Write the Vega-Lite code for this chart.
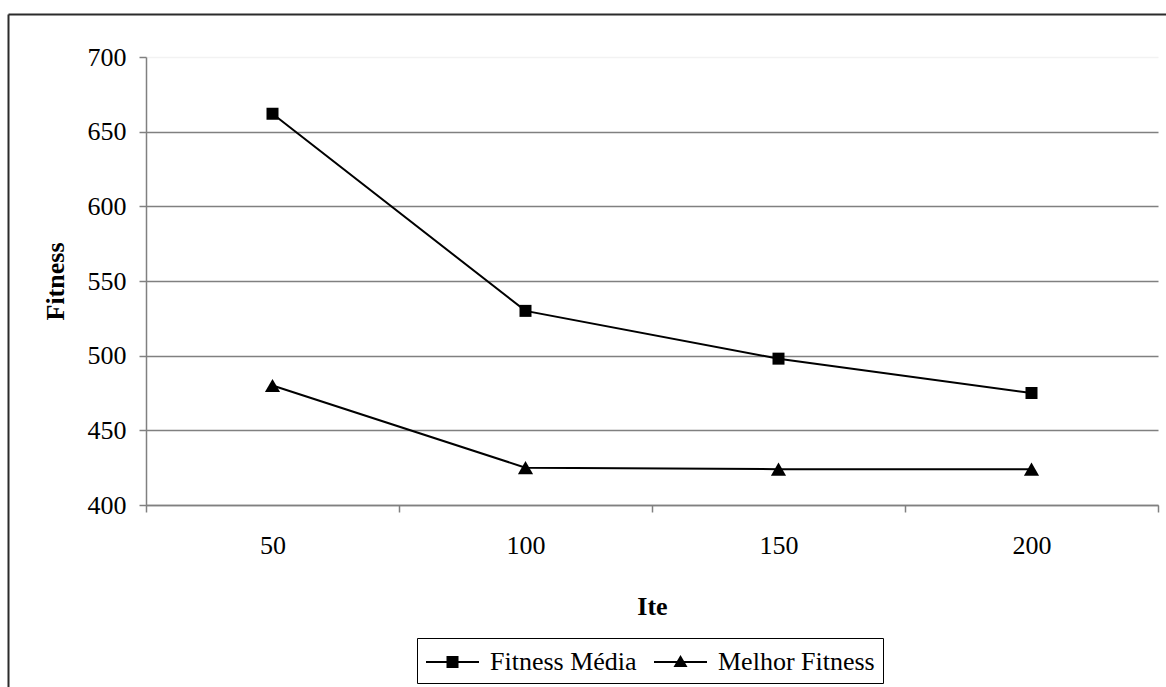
{
  "$schema": "https://vega.github.io/schema/vega-lite/v6.json",
  "width": 1158,
  "height": 673,
  "autosize": {"type": "none"},
  "padding": {"left": 8, "top": 14, "right": 0, "bottom": 0},
  "background": "white",
  "view": {"stroke": null},
  "config": {
    "font": "Liberation Serif",
    "view": {"stroke": null}
  },
  "data": {
    "values": [
      {"Ite": 50, "Fitness": 662, "Serie": "Fitness Média"},
      {"Ite": 100, "Fitness": 530, "Serie": "Fitness Média"},
      {"Ite": 150, "Fitness": 498, "Serie": "Fitness Média"},
      {"Ite": 200, "Fitness": 475, "Serie": "Fitness Média"},
      {"Ite": 50, "Fitness": 480, "Serie": "Melhor Fitness"},
      {"Ite": 100, "Fitness": 425, "Serie": "Melhor Fitness"},
      {"Ite": 150, "Fitness": 424, "Serie": "Melhor Fitness"},
      {"Ite": 200, "Fitness": 424, "Serie": "Melhor Fitness"}
    ]
  },
  "layer": [
    {
      "encoding": {
        "x": {
          "field": "Ite",
          "type": "ordinal",
          "scale": {"type": "band", "paddingInner": 0, "paddingOuter": 0, "range": [138, 1150]},
          "axis": {
            "title": "Ite",
            "orient": "bottom",
            "offset": -182,
            "tickBand": "extent",
            "labelAngle": 0,
            "labelFont": "Liberation Serif",
            "labelFontSize": 26,
            "labelColor": "black",
            "labelPadding": 20,
            "titleFont": "Liberation Serif",
            "titleFontSize": 26,
            "titleFontWeight": "bold",
            "titleColor": "black",
            "titlePadding": 35,
            "domainColor": "#808080",
            "domainWidth": 1.5,
            "tickColor": "#808080",
            "tickWidth": 1.5,
            "tickSize": 7,
            "grid": false
          }
        },
        "y": {
          "field": "Fitness",
          "type": "quantitative",
          "scale": {"domain": [400, 700], "range": [491, 43], "nice": false, "zero": false},
          "axis": {
            "title": "Fitness",
            "orient": "left",
            "offset": -138,
            "values": [400, 450, 500, 550, 600, 650, 700],
            "grid": true,
            "gridColor": {"condition": {"test": "datum.value === 700", "value": "#f2f2f2"}, "value": "#808080"},
            "gridWidth": 1.5,
            "labelFont": "Liberation Serif",
            "labelFontSize": 26,
            "labelColor": "black",
            "labelPadding": 13,
            "titleFont": "Liberation Serif",
            "titleFontSize": 26,
            "titleFontWeight": "bold",
            "titleColor": "black",
            "titlePadding": 19,
            "domainColor": "#808080",
            "domainWidth": 1.5,
            "tickColor": "#808080",
            "tickWidth": 1.5,
            "tickSize": 7
          }
        }
      },
      "layer": [
        {
          "mark": {"type": "line", "color": "black", "strokeWidth": 2},
          "encoding": {"detail": {"field": "Serie", "type": "nominal"}}
        },
        {
          "mark": {"type": "point", "filled": true, "color": "black", "opacity": 1},
          "encoding": {
            "shape": {
              "field": "Serie",
              "type": "nominal",
              "scale": {"domain": ["Fitness Média", "Melhor Fitness"], "range": ["square", "triangle-up"]},
              "legend": null
            },
            "size": {
              "field": "Serie",
              "type": "nominal",
              "scale": {"domain": ["Fitness Média", "Melhor Fitness"], "range": [144, 230]},
              "legend": null
            }
          }
        },
        {
          "transform": [{"filter": "false"}],
          "mark": {"type": "point", "filled": true, "color": "black", "opacity": 1},
          "encoding": {
            "shape": {
              "field": "Serie",
              "type": "nominal",
              "scale": {
                "domain": ["Fitness Média", "Melhor Fitness"],
                "range": [
                  "M-1,-0.067H2.533V0.067H-1ZM0.367,-0.4H1.167V0.4H0.367Z",
                  "M-1,-0.067H2.533V0.067H-1ZM0.767,-0.467L1.234,0.333L0.3,0.333Z"
                ]
              },
              "legend": {
                "orient": "none",
                "legendX": 409,
                "legendY": 624,
                "direction": "horizontal",
                "title": null,
                "strokeColor": "black",
                "fillColor": "white",
                "padding": 8,
                "labelFont": "Liberation Serif",
                "labelFontSize": 26,
                "labelColor": "black",
                "labelOffset": 33,
                "columnPadding": 14,
                "symbolSize": 900
              }
            }
          }
        }
      ],
      "resolve": {"scale": {"shape": "independent", "size": "independent"}, "legend": {"shape": "independent"}}
    },
    {
      "transform": [{"filter": "false"}],
      "mark": {"type": "point"},
      "encoding": {
        "x": {
          "field": "Ite",
          "type": "quantitative",
          "scale": {"domain": [0, 1], "range": [0, 1158], "nice": false, "zero": false},
          "axis": {
            "orient": "top",
            "offset": 0,
            "title": null,
            "labels": false,
            "ticks": false,
            "grid": false,
            "domainColor": "#2b2b2b",
            "domainWidth": 2
          }
        },
        "y": {
          "field": "Fitness",
          "type": "quantitative",
          "scale": {"domain": [0, 1], "range": [673, 0], "nice": false, "zero": false},
          "axis": {
            "orient": "right",
            "offset": -1158,
            "title": null,
            "labels": false,
            "ticks": false,
            "grid": false,
            "domainColor": "#2b2b2b",
            "domainWidth": 2
          }
        }
      }
    }
  ],
  "resolve": {"scale": {"x": "independent", "y": "independent"}, "axis": {"x": "independent", "y": "independent"}}
}
